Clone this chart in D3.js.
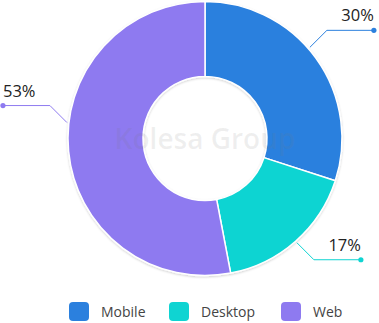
<!DOCTYPE html>
<html>
<head>
<meta charset="utf-8">
<script src="https://cdn.jsdelivr.net/npm/d3@7"></script>
<style>
  html, body { margin: 0; padding: 0; background: #fff; }
  svg { display: block; font-family: "Open Sans", "Noto Sans", sans-serif; }
</style>
</head>
<body>
<svg id="chart" width="379" height="323"></svg>
<script>
// Traffic share by platform
const categories = ["Mobile", "Desktop", "Web"];
const values = [30, 17, 53];
const colors = ["#2b80de", "#0fd4d2", "#8e7af0"];

const width = 379, height = 323;
const cx = 205, cy = 138.5;
const outerR = 137, innerR = 62;

// leader-line layout: small angular nudge per label, diagonal and horizontal lengths
const leaderNudge = [-5, 0, 12];
const diag = 24, horiz = 47;

const svg = d3.select("#chart");

const defs = svg.append("defs");
const shadow = defs.append("filter").attr("id", "shade")
  .attr("x", "-10%").attr("y", "-10%").attr("width", "120%").attr("height", "120%");
shadow.append("feDropShadow").attr("dx", 0).attr("dy", 1).attr("stdDeviation", 1.2)
  .attr("flood-color", "#000").attr("flood-opacity", 0.18);

const pie = d3.pie().sort(null).value(d => d)(values);
const arc = d3.arc().innerRadius(innerR).outerRadius(outerR);

const g = svg.append("g").attr("transform", `translate(${cx},${cy})`);

g.append("g").attr("filter", "url(#shade)")
  .selectAll("path")
  .data(pie)
  .join("path")
  .attr("d", arc)
  .attr("fill", (d, i) => colors[i])
  .attr("stroke", "#fff")
  .attr("stroke-width", 1.5)
  .attr("stroke-linejoin", "round");

// labels with elbow leader lines
const labels = g.append("g");
pie.forEach((d, i) => {
  const mid = (d.startAngle + d.endAngle) / 2 + leaderNudge[i] * Math.PI / 180;
  const r1 = outerR + 2;
  const x1 = r1 * Math.sin(mid), y1 = -r1 * Math.cos(mid);
  const sx = x1 >= 0 ? 1 : -1, sy = y1 >= 0 ? 1 : -1;
  const step = diag / Math.SQRT2;
  const x2 = x1 + sx * step, y2 = y1 + sy * step;
  const x3 = x2 + sx * horiz;
  labels.append("polyline")
    .attr("points", [[x1, y1], [x2, y2], [x3, y2]].map(p => p.join(",")).join(" "))
    .attr("fill", "none")
    .attr("stroke", colors[i])
    .attr("stroke-width", 1);
  labels.append("circle")
    .attr("cx", x3).attr("cy", y2).attr("r", 2.6)
    .attr("fill", colors[i]);
  labels.append("text")
    .attr("x", x3)
    .attr("y", y2 - 9)
    .attr("text-anchor", sx > 0 ? "end" : "start")
    .attr("font-size", 16.5)
    .attr("fill", "#222")
    .text(values[i] + "%");
});

// watermark
svg.append("text")
  .attr("x", cx).attr("y", cy + 10)
  .attr("text-anchor", "middle")
  .attr("font-size", 28)
  .attr("font-weight", 600)
  .attr("fill", "rgba(120,120,120,0.12)")
  .text("Kolesa Group");

// legend
const legendX = [69, 169, 281];
const legend = svg.append("g");
categories.forEach((c, i) => {
  const lg = legend.append("g").attr("transform", `translate(${legendX[i]},302)`);
  lg.append("rect").attr("width", 20).attr("height", 19).attr("rx", 4)
    .attr("fill", colors[i]);
  lg.append("text").attr("x", 32).attr("y", 15)
    .attr("font-size", 14).attr("fill", "#444")
    .text(c);
});
</script>
</body>
</html>
